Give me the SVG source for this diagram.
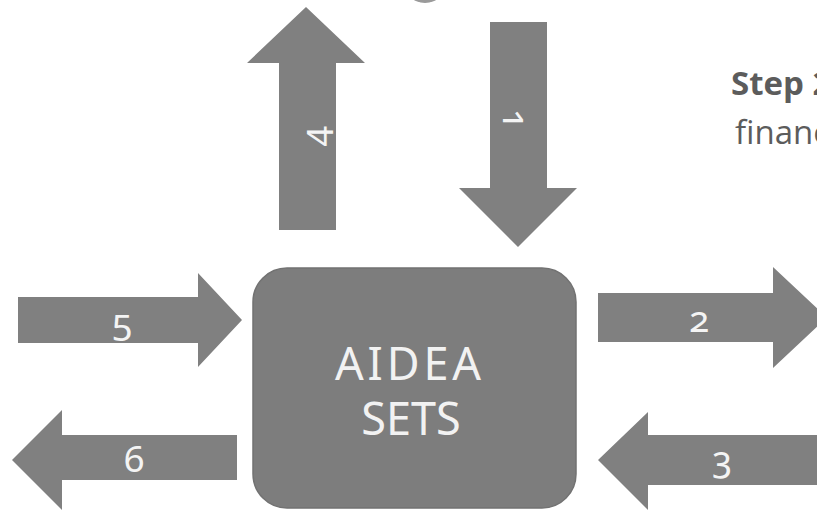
<svg xmlns="http://www.w3.org/2000/svg" width="817" height="510" viewBox="0 0 817 510">
<style>
.ar{fill:#808080;}
.box{fill:#7d7d7d;stroke:#727272;stroke-width:1.5;}
.lbl{font-family:"Noto Sans","Open Sans",sans-serif;font-size:37px;fill:#f4f4f4;text-anchor:middle;font-feature-settings:"onum";}
.big{font-family:"Noto Sans","Open Sans",sans-serif;font-size:45px;fill:#f2f2f2;text-anchor:middle;}
.step{font-family:"Open Sans","Noto Sans",sans-serif;font-size:33px;fill:#5c5c5c;}
</style>
<rect width="817" height="510" fill="#ffffff"/>
<ellipse cx="425" cy="-19" rx="22" ry="22" fill="#9a9a9a"/>
<g id="node-aidea">
<rect class="box" x="253" y="268" width="323" height="240" rx="34" ry="34"/>
<text class="big" x="408" y="380" textLength="146" lengthAdjust="spacing">AIDEA</text>
<text class="big" x="411" y="435">SETS</text>
</g>
<g id="node-step">
<text class="step" x="731" y="95" font-weight="bold">Step 2</text>
<text class="step" x="735" y="144">financ</text>
</g>
<g id="connectors">
<g id="arrow1">
<polygon class="ar" points="490,22 547,22 547,188 577,188 518,247 459,188 490,188"/>
<text class="lbl" transform="translate(515,119) rotate(90)" x="0" y="12">1</text>
</g>
<g id="arrow2">
<polygon class="ar" points="598,293 773,293 773,267 827,317.5 773,368 773,342 598,342"/>
<text class="lbl" x="699" y="332">2</text>
</g>
<g id="arrow3">
<polygon class="ar" points="830,435 648,435 648,412 598,460 648,510 648,485 830,485"/>
<text class="lbl" x="722" y="472">3</text>
</g>
<g id="arrow4">
<polygon class="ar" points="279,230 279,63 247,63 306,7 365,63 336,63 336,230"/>
<text class="lbl" transform="translate(315,136) rotate(-90)" x="0" y="12">4</text>
</g>
<g id="arrow5">
<polygon class="ar" points="18,297 198,297 198,273 242,320 198,367 198,343 18,343"/>
<text class="lbl" x="122" y="335">5</text>
</g>
<g id="arrow6">
<polygon class="ar" points="237,435 62,435 62,410 12,460 62,510 62,480 237,480"/>
<text class="lbl" x="134" y="472">6</text>
</g>
</g>
</svg>
